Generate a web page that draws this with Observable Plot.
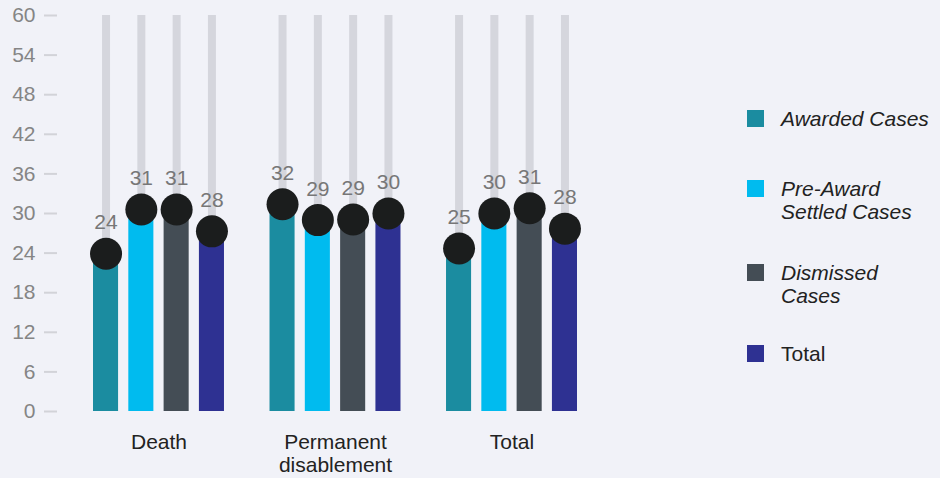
<!DOCTYPE html>
<html><head><meta charset="utf-8">
<script src="https://cdn.jsdelivr.net/npm/d3@7"></script>
<script src="https://cdn.jsdelivr.net/npm/@observablehq/plot@0.6"></script>
<style>
html,body{margin:0;padding:0;background:#f1f2f8;}
#wrap{position:relative;width:940px;height:478px;font-family:"Liberation Sans",Arial,Helvetica,sans-serif;overflow:hidden;}
#wrap svg{position:absolute;left:0;top:0;}
.sw{position:absolute;left:747px;width:17px;height:17px;}
.lt{position:absolute;left:781px;font-size:21px;line-height:23px;color:#222;white-space:pre-line;}
</style></head><body><div id="wrap"></div>
<script>
const groups = ["Death", "Permanent disablement", "Total"];
const series = ["Awarded Cases", "Pre-Award Settled Cases", "Dismissed Cases", "Total"];
const legendLabels = ["Awarded Cases", "Pre-Award\nSettled Cases", "Dismissed\nCases", "Total"];
const colors = ["#1b8ca0", "#00bbef", "#444d55", "#2e3192"];
const awarded = [23.9, 31.4, 24.7];
const preAward = [30.6, 29.0, 30.0];
const dismissed = [30.6, 29.1, 30.8];
const total = [27.3, 30.0, 27.7];
const awardedLabels = ["24", "32", "25"];
const preAwardLabels = ["31", "29", "30"];
const dismissedLabels = ["31", "29", "31"];
const totalLabels = ["28", "30", "28"];
const yTicks = [0, 6, 12, 18, 24, 30, 36, 42, 48, 54, 60];

const values = [awarded, preAward, dismissed, total];
const labels = [awardedLabels, preAwardLabels, dismissedLabels, totalLabels];
const data = [];
series.forEach((s, i) => groups.forEach((g, j) => data.push({group: g, series: s, value: values[i][j], label: labels[i][j]})));

const font = '"Liberation Sans", Arial, Helvetica, sans-serif';
const fxStep = (940 - 57 - 327) / (3 - 0.258 + 2 * 0.204);
const chart = Plot.plot({
  width: 940, height: 478,
  marginLeft: 57, marginRight: 327, marginTop: 15, marginBottom: 67,
  style: {background: "transparent", fontFamily: font, fontSize: "21px", overflow: "visible"},
  fx: {domain: groups, paddingInner: 0.258, paddingOuter: 0.204, round: false, label: null},
  x: {domain: series, paddingInner: 0.29, paddingOuter: 0, round: false, axis: null},
  y: {domain: [0, 60], label: null},
  color: {domain: series, range: colors},
  marks: [
    Plot.axisY({ticks: yTicks, tickSize: 13, tickPadding: 9, dx: -0.204 * fxStep, stroke: "#d2d3d8", strokeWidth: 2, fill: "#858585", label: null, fontSize: 21}),
    Plot.axisFx({anchor: "bottom", tickSize: 0, tickPadding: 21, label: null, fill: "#222", fontSize: 21, lineHeight: 1.1,
      tickFormat: d => d === "Permanent disablement" ? "Permanent\ndisablement" : d}),
    Plot.ruleX(data, {fx: "group", x: "series", y1: 0, y2: 60, stroke: "#d5d6dd", strokeWidth: 8}),
    Plot.barY(data, {fx: "group", x: "series", y: "value", fill: "series"}),
    Plot.dot(data, {fx: "group", x: "series", y: "value", r: 16, fill: "#1b1d1d", stroke: null}),
    Plot.text(data, {fx: "group", x: "series", y: "value", text: "label", dy: -31, fill: "#777", fontSize: 21})
  ]
});
const wrap = document.getElementById("wrap");
wrap.appendChild(chart);

const swTops = [110, 180, 264, 345];
series.forEach((s, i) => {
  const sw = document.createElement("div");
  sw.className = "sw";
  sw.style.top = swTops[i] + "px";
  sw.style.background = colors[i];
  wrap.appendChild(sw);
  const t = document.createElement("div");
  t.className = "lt";
  t.style.top = (swTops[i] - 3) + "px";
  t.style.fontStyle = i < 3 ? "italic" : "normal";
  t.textContent = legendLabels[i];
  wrap.appendChild(t);
});
</script></body></html>
